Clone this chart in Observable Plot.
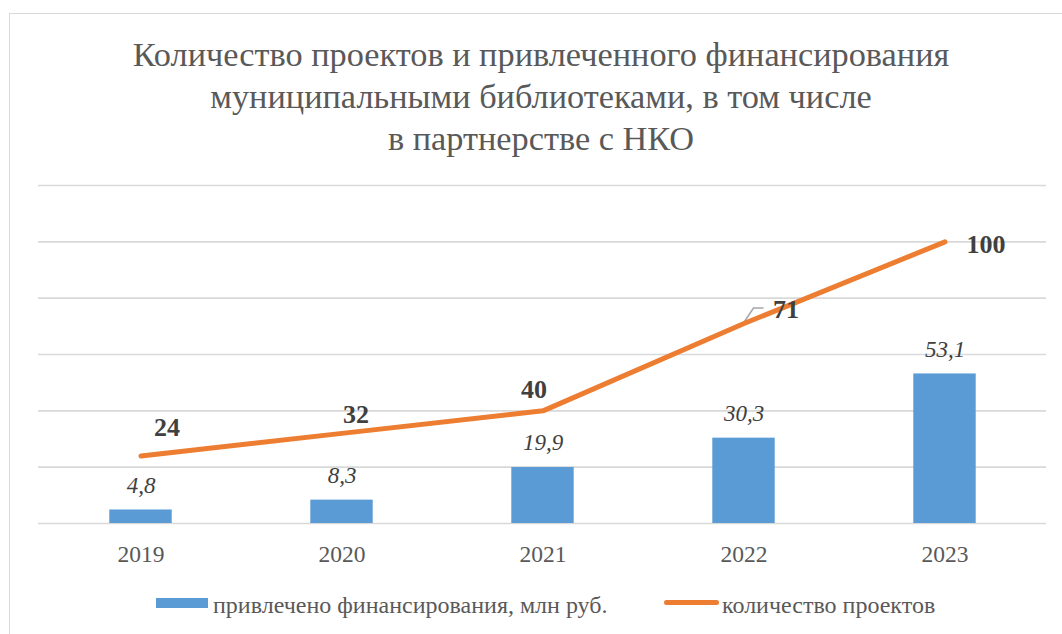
<!DOCTYPE html>
<html>
<head>
<meta charset="utf-8">
<script src="https://cdn.jsdelivr.net/npm/d3@7"></script>
<script src="https://cdn.jsdelivr.net/npm/@observablehq/plot@0.6"></script>
<style>
  html, body { margin: 0; padding: 0; background: #fff; overflow: hidden; width: 1062px; height: 634px; font-family: 'Liberation Serif', serif; }
  #frame { position: absolute; left: 9px; top: 13px; width: 1100px; height: 700px; border: 1.5px solid #d9d9d9; box-sizing: border-box; }
  #title { position: absolute; left: 0; top: 33px; width: 1082px; text-align: center; font-size: 34.3px; line-height: 42px; color: #595959; }
  #chart { position: absolute; left: 0; top: 160px; }
  .leg { position: absolute; font-size: 24px; line-height: 28px; color: #595959; white-space: nowrap; }
</style>
</head>
<body>
<div id="frame"></div>
<div id="title" style="font-family:'Liberation Serif', serif">Количество проектов и привлеченного финансирования<br>муниципальными библиотеками, в том числе<br>в партнерстве с НКО</div>
<div id="chart"></div>
<div id="legend"></div>
<script>
const years = [2019, 2020, 2021, 2022, 2023];
const funding = [4.8, 8.3, 19.9, 30.3, 53.1];
const projects = [24, 32, 40, 71, 100];
const fundingLabels = ["4,8", "8,3", "19,9", "30,3", "53,1"];
const yTicks = [0, 20, 40, 60, 80, 100, 120];
const seriesNames = ["привлечено финансирования, млн руб.", "количество проектов"];

// label placement (layout only)
const projectLabelOffsets = [[26, -20], [14, -10], [-9, -13], [42, -6], [41, 11]];

const data = years.map((y, i) => ({year: String(y), funding: funding[i], projects: projects[i], fl: fundingLabels[i], pl: String(projects[i]), i}));

const blue = "#5B9BD5", orange = "#ED7D31";
const FONT = "'Liberation Serif', serif";

const leader = (index, scales) => {
  const d = data[3];
  const sx = scales.x, sy = scales.y;
  const bw = typeof sx.bandwidth === "function" ? sx.bandwidth() : (sx.bandwidth || 0);
  const px = sx(d.year) + bw / 2;
  const py = sy(d.projects);
  const p = d3.create("svg:path")
    .attr("d", `M${px},${py} l10,-15 h10`)
    .attr("fill", "none").attr("stroke", "#a6a6a6").attr("stroke-width", 1.5);
  return p.node();
};

const labelMarks = data.map((d, i) => Plot.text([d], {
  x: "year", y: "projects", text: "pl",
  dx: projectLabelOffsets[i][0], dy: projectLabelOffsets[i][1],
  lineAnchor: "bottom", fontSize: 26, fontWeight: "bold", fill: "#404040", fontFamily: FONT
}));

const chart = Plot.plot({
  width: 1062,
  height: 420,
  marginLeft: 38,
  marginRight: 16,
  marginTop: 25,
  marginBottom: 57,
  style: {fontFamily: FONT, background: "transparent"},
  x: {type: "band", domain: years.map(String), padding: 0, label: null},
  y: {domain: [0, 120], label: null},
  marks: [
    Plot.gridY(yTicks, {stroke: "#d9d9d9", strokeOpacity: 1, strokeWidth: 1.6}),
    Plot.barY(data, {x: "year", y: "funding", fill: blue, insetLeft: 69.3, insetRight: 69.3}),
    Plot.text(data, {x: "year", y: "funding", text: "fl", dy: -17, lineAnchor: "bottom", fontSize: 23, fontStyle: "italic", fill: "#404040", fontFamily: FONT}),
    leader,
    Plot.lineY(data, {x: "year", y: "projects", stroke: orange, strokeWidth: 5, strokeLinecap: "round", strokeLinejoin: "round"}),
    ...labelMarks,
    Plot.axisX({tickSize: 0, tickPadding: 22, fontSize: 23.5, fill: "#595959", label: null, fontFamily: FONT}),
    Plot.axisY({ticks: [], label: null, tickSize: 0})
  ]
});
chart.style.fontFamily = FONT;
document.getElementById("chart").appendChild(chart);

const legend = document.getElementById("legend");
legend.innerHTML = `
  <div style="position:absolute;left:156px;top:598px;width:52px;height:10px;background:${blue}"></div>
  <div class="leg" style="left:213px;top:591px;font-family:'Liberation Serif', serif">${seriesNames[0]}</div>
  <div style="position:absolute;left:664px;top:600px;width:55px;height:5px;border-radius:3px;background:${orange}"></div>
  <div class="leg" style="left:722px;top:591px;font-family:'Liberation Serif', serif">${seriesNames[1]}</div>
`;
</script>
</body>
</html>
